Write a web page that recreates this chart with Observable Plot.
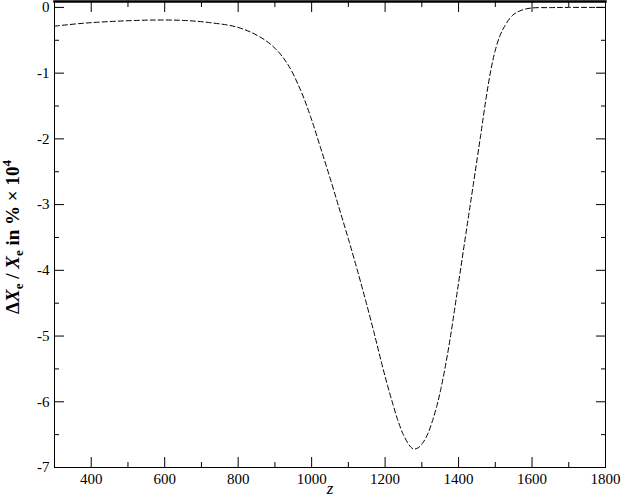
<!DOCTYPE html>
<html><head><meta charset="utf-8">
<script src="https://cdn.jsdelivr.net/npm/d3@7"></script>
<script src="https://cdn.jsdelivr.net/npm/@observablehq/plot@0.6"></script>
<style>body{margin:0;background:#fff}</style>
</head><body><div id="chart"></div>
<script>
const zValues = [300, 380, 470, 561, 652, 725, 797, 852, 897, 934, 970, 997, 1024, 1052, 1079, 1102, 1125, 1148, 1170, 1190, 1207, 1222, 1234, 1248, 1261, 1270, 1279, 1290, 1302, 1316, 1329, 1341, 1352, 1366, 1379, 1400, 1420, 1440, 1460, 1475, 1488, 1500, 1512, 1525, 1547, 1570, 1597, 1650, 1700, 1800];
const dXe = [-0.285, -0.24, -0.21, -0.193, -0.198, -0.233, -0.30, -0.426, -0.604, -0.857, -1.26, -1.66, -2.13, -2.63, -3.13, -3.56, -4.01, -4.48, -4.95, -5.40, -5.76, -6.05, -6.27, -6.48, -6.62, -6.69, -6.72, -6.70, -6.63, -6.49, -6.29, -6.06, -5.80, -5.40, -4.97, -4.19, -3.44, -2.70, -1.95, -1.38, -0.95, -0.65, -0.44, -0.29, -0.12, -0.046, -0.01, -0.003, 0, 0];
const xMajor = [400, 600, 800, 1000, 1200, 1400, 1600, 1800];
const xMinor = [500, 700, 900, 1100, 1300, 1500, 1700];
const yMajor = [0, -1, -2, -3, -4, -5, -6, -7];
const yMinor = [-0.5, -1.5, -2.5, -3.5, -4.5, -5.5, -6.5];
const xLabel = "z";

const data = zValues.map((v, i) => ({z: v, d: dXe[i]}));
const font = "'Liberation Serif', serif";
const fmt = d => String(d);
const blank = () => "";

const svg = Plot.plot({
  width: 621, height: 499,
  marginLeft: 54, marginRight: 16, marginTop: 1, marginBottom: 32,
  style: {fontFamily: font, fontSize: "15px", color: "#000", background: "#fff"},
  x: {domain: [300, 1800]},
  y: {domain: [-7, 0.09]},
  marks: [
    Plot.axisX(xMajor, {anchor: "bottom", tickSize: -10, tickPadding: 16, tickFormat: fmt, label: null}),
    Plot.axisX(xMinor, {anchor: "bottom", tickSize: -5, tickFormat: blank, label: null}),
    Plot.axisX(xMajor, {anchor: "top", tickSize: -10, tickFormat: blank, label: null}),
    Plot.axisX(xMinor, {anchor: "top", tickSize: -5, tickFormat: blank, label: null}),
    Plot.axisY(yMajor, {anchor: "left", tickSize: -10, tickPadding: 15, tickFormat: fmt, label: null}),
    Plot.axisY(yMinor, {anchor: "left", tickSize: -5, tickFormat: blank, label: null}),
    Plot.axisY(yMajor, {anchor: "right", tickSize: -10, tickFormat: blank, label: null}),
    Plot.axisY(yMinor, {anchor: "right", tickSize: -5, tickFormat: blank, label: null}),
    Plot.frame({stroke: "#000"}),
    Plot.frame({anchor: "top", stroke: "#000", strokeWidth: 2.5}),
    Plot.line(data, {x: "z", y: "d", stroke: "#000", strokeWidth: 1, strokeDasharray: "5,3", curve: "catmull-rom"}),
    Plot.text([xLabel], {frameAnchor: "bottom", dy: 26, fontStyle: "italic", fontSize: 17, fill: "#000"})
  ]
});

const root = d3.select(svg);
const t = root.append("text")
  .attr("transform", "translate(19,237) rotate(-90)")
  .attr("text-anchor", "middle")
  .attr("font-weight", "bold")
  .attr("font-size", 19)
  .attr("fill", "#000");
t.append("tspan").text("\u0394");
t.append("tspan").attr("font-style", "italic").text("X");
t.append("tspan").attr("dy", 4).attr("font-size", 13).text("e");
t.append("tspan").attr("dy", -4).text(" / ");
t.append("tspan").attr("font-style", "italic").text("X");
t.append("tspan").attr("dy", 4).attr("font-size", 13).text("e");
t.append("tspan").attr("dy", -4).text(" in % \u00d7 10");
t.append("tspan").attr("dy", -8).attr("font-size", 13).text("4");
root.selectAll("text").style("font-family", font);

document.getElementById("chart").append(svg);
</script>
</body></html>
